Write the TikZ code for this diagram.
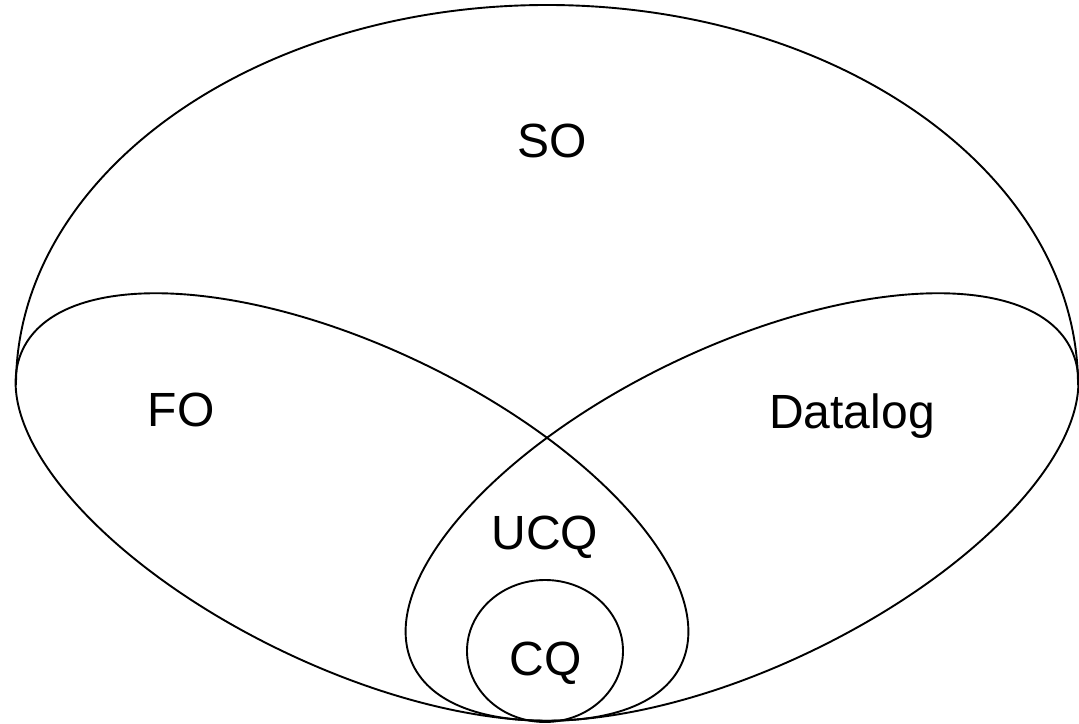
\documentclass[tikz,border=0pt]{standalone}
\usepackage{fontspec}
\setmainfont{Liberation Sans}
\begin{document}
\begin{tikzpicture}[x=1pt,y=1pt,
  outline/.style={draw=black,line width=1.9pt},
  lbl/.style={anchor=base,inner sep=0pt,font=\fontsize{48}{56}\selectfont}]
\useasboundingbox (0,0) rectangle (1079,723);
% second-order: upper half of a wide ellipse
\draw[outline] (16,338) arc[start angle=180,end angle=0,x radius=531,y radius=380];
% first-order logic and Datalog: two tilted ellipses
\draw[outline] (352,216) ellipse[x radius=365,y radius=160,rotate=-25.6];
\draw[outline] (742,216) ellipse[x radius=365,y radius=160,rotate=25.6];
% conjunctive queries
\draw[outline] (545,72) ellipse[x radius=78,y radius=71];
% labels
\node[lbl] (so) at (552,565) {SO};
\node[lbl] (fo) at (181,296) {FO};
\node[lbl] (dl) at (852,294) {Datalog};
\node[lbl] (ucq) at (545,173) {UCQ};
\node[lbl] (cq) at (545.5,48) {CQ};
\end{tikzpicture}
\end{document}
